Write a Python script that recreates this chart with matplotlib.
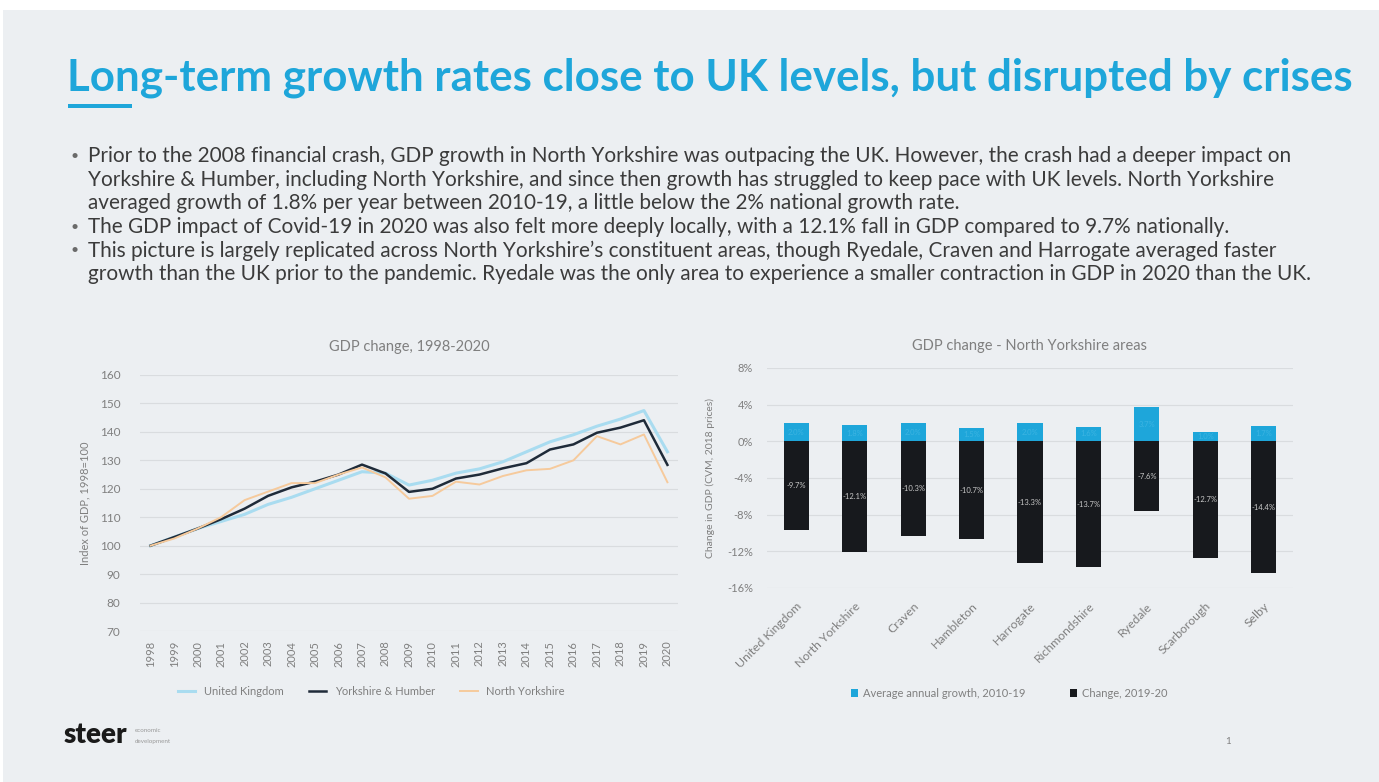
import matplotlib.pyplot as plt
import numpy as np
from matplotlib.patches import Rectangle

plt.rcParams['font.family'] = ['Lato', 'DejaVu Sans']

# GDP index, 1998 = 100
years = list(range(1998, 2021))
uk = [100, 103, 106, 108.5, 111, 114.5, 117, 120, 123, 126, 125.5, 121.3, 123,
      125.5, 127, 129.5, 133, 136.5, 139, 142, 144.5, 147.5, 133]
yorks_humber = [100, 103, 106, 109.3, 113, 117.5, 120.5, 122.5, 125, 128.5, 125.4, 118.9, 120,
                123.6, 125, 127.2, 129, 133.8, 135.6, 139.7, 141.5, 144.1, 128.4]
north_yorks = [100, 102.5, 106, 110, 116, 119, 122, 122, 125, 127.5, 124, 116.5, 117.5,
               122.5, 121.5, 124.5, 126.5, 127, 130, 138.5, 135.6, 139.1, 122.3]

# North Yorkshire areas
areas = ['United Kingdom', 'North Yorkshire', 'Craven', 'Hambleton', 'Harrogate',
         'Richmondshire', 'Ryedale', 'Scarborough', 'Selby']
avg_growth = [2.0, 1.8, 2.0, 1.5, 2.0, 1.6, 3.7, 1.0, 1.7]
change_2020 = [-9.7, -12.1, -10.3, -10.7, -13.3, -13.7, -7.6, -12.7, -14.4]

bullets = [
    ["Prior to the 2008 financial crash, GDP growth in North Yorkshire was outpacing the UK. However, the crash had a deeper impact on",
     "Yorkshire & Humber, including North Yorkshire, and since then growth has struggled to keep pace with UK levels. North Yorkshire",
     "averaged growth of 1.8% per year between 2010-19, a little below the 2% national growth rate."],
    ["The GDP impact of Covid-19 in 2020 was also felt more deeply locally, with a 12.1% fall in GDP compared to 9.7% nationally."],
    ["This picture is largely replicated across North Yorkshire\u2019s constituent areas, though Ryedale, Craven and Harrogate averaged faster",
     "growth than the UK prior to the pandemic. Ryedale was the only area to experience a smaller contraction in GDP in 2020 than the UK."],
]

W, H = 1379, 782
bg = '#eceff2'
cyan = '#1ea6da'
txt = '#3b3b3b'
axis_txt = '#7f7f7f'
grid_c = '#d9dcdf'

fig = plt.figure(figsize=(W / 100, H / 100), dpi=100, facecolor='white')
fig.patches.append(Rectangle((3 / W, 0), 1, 1 - 10 / H, transform=fig.transFigure,
                             facecolor=bg, edgecolor='none', zorder=-10))


def fx(px):
    return px / W


def fy(py):
    return 1 - py / H


# heading and accent bar
fig.text(fx(67), fy(78), 'Long-term growth rates close to UK levels, but disrupted by crises',
         color=cyan, fontsize=31.6, fontweight='bold', va='center', ha='left')
fig.patches.append(Rectangle((fx(68), fy(108)), fx(64), 4 / H, transform=fig.transFigure,
                             facecolor=cyan, edgecolor='none'))

# bullet text
y = 156
for para in bullets:
    fig.text(fx(71), fy(y), '\u2022', color='#6a6a6a', fontsize=10, va='center')
    for line in para:
        fig.text(fx(88), fy(y), line, color=txt, fontsize=14.95, va='center')
        y += 23.6

# left chart: GDP index lines
ax1 = fig.add_axes([fx(140), fy(631), fx(538), (631 - 375) / H])
ax1.set_facecolor('none')
ax1.plot(years, uk, color='#a9dcf0', lw=2.2, label='United Kingdom')
ax1.plot(years, yorks_humber, color='#1f2b39', lw=1.8, label='Yorkshire & Humber')
ax1.plot(years, north_yorks, color='#f6ca9c', lw=1.4, label='North Yorkshire')
ax1.set_ylim(70, 160)
ax1.set_yticks(range(70, 161, 10))
ax1.set_xlim(1997.55, 2020.45)
ax1.set_xticks(years)
ax1.set_xticklabels([str(v) for v in years], rotation=90)
ax1.grid(axis='y', color=grid_c, lw=0.8)
ax1.set_axisbelow(True)
for s in ax1.spines.values():
    s.set_visible(False)
ax1.tick_params(axis='y', length=0, labelsize=8.5, labelcolor=axis_txt, pad=14)
ax1.tick_params(axis='x', length=0, labelsize=8, labelcolor=axis_txt, pad=7)
ax1.set_ylabel('Index of GDP, 1998=100', color=axis_txt, fontsize=8, labelpad=7)
ax1.set_title('GDP change, 1998-2020', color=axis_txt, fontsize=10.5, pad=17)
ax1.legend(loc='upper center', bbox_to_anchor=(0.43, -0.175), ncol=3, frameon=False,
           fontsize=8, labelcolor=axis_txt, handlelength=1.6, columnspacing=2.2)

# right chart: stacked bars by area
ax2 = fig.add_axes([fx(767), fy(588), fx(526), (588 - 368) / H])
ax2.set_facecolor('none')
x = np.arange(len(areas))
b1 = ax2.bar(x, avg_growth, width=0.43, color=cyan, label='Average annual growth, 2010-19')
b2 = ax2.bar(x, change_2020, width=0.43, color='#17191d', label='Change, 2019-20')
for rect, v in zip(b2, change_2020):
    ax2.text(rect.get_x() + rect.get_width() / 2, v / 2, f'{v:.1f}%', ha='center', va='center',
             color='#c8c8c8', fontsize=5.5)
for rect, v in zip(b1, avg_growth):
    ax2.text(rect.get_x() + rect.get_width() / 2, v / 2, f'{v:.1f}%', ha='center', va='center',
             color='#3cb4e2', fontsize=5.5)
ax2.set_ylim(-16, 8)
ax2.set_yticks(range(-16, 9, 4))
ax2.set_yticklabels([f'{v}%' for v in range(-16, 9, 4)])
ax2.set_xlim(-0.5, len(areas) - 0.5)
ax2.set_xticks(x)
ax2.set_xticklabels(areas, rotation=45, ha='right', rotation_mode='anchor')
ax2.grid(axis='y', color=grid_c, lw=0.8)
ax2.set_axisbelow(True)
for s in ax2.spines.values():
    s.set_visible(False)
ax2.tick_params(axis='y', length=0, labelsize=8, labelcolor=axis_txt, pad=10)
ax2.tick_params(axis='x', length=0, labelsize=8.8, labelcolor=axis_txt, pad=9)
ax2.set_ylabel('Change in GDP (CVM, 2018 prices)', color=axis_txt, fontsize=7.5, labelpad=9)
ax2.set_title('GDP change - North Yorkshire areas', color=axis_txt, fontsize=10.5, pad=13)
ax2.legend(loc='upper center', bbox_to_anchor=(0.46, -0.41), ncol=2, frameon=False,
           fontsize=8, labelcolor=axis_txt, handlelength=0.7, handleheight=0.7,
           columnspacing=4.0, handletextpad=0.4)

# footer
fig.text(fx(64), fy(735), 'steer', color='#1a1a1a', fontsize=20, fontweight='heavy', va='center')
fig.text(fx(135), fy(730), 'economic', color='#9a9a9a', fontsize=4.5, va='center')
fig.text(fx(135), fy(741), 'development', color='#9a9a9a', fontsize=4.5, va='center')
fig.text(fx(1228), fy(742), '1', color='#7f7f7f', fontsize=7, va='center', ha='center')

fig.savefig('out.png', dpi=100, facecolor=fig.get_facecolor())
